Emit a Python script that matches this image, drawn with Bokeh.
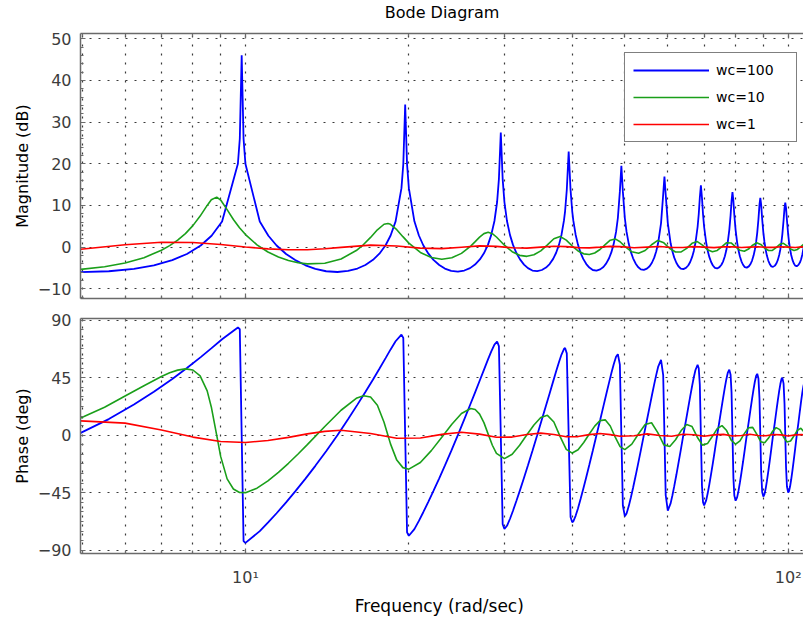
from bokeh.plotting import figure
from bokeh.models import Range1d, FixedTicker, LogAxis, Legend, LegendItem, ColumnDataSource
from bokeh.core.properties import value
from bokeh.layouts import column
from bokeh.embed import file_html
from bokeh.resources import INLINE

# ---------------- data ----------------
title_text = "Bode Diagram"
series_names = ["wc=100", "wc=10", "wc=1"]
series_colors = ["#0000ff", "#1a9f1a", "#ff0000"]

blue_freq = [4.97,
             5.60, 6.23, 6.78, 7.33, 7.80, 8.27, 8.66, 9.055, 9.683, 9.7615, 9.84,
             9.9185, 9.997, 10.625, 11.02, 11.41, 11.88, 12.35, 12.90, 13.45, 14.08, 14.77,
             15.45, 16.08, 16.63, 17.18, 17.65, 18.12, 18.51, 18.905, 19.381, 19.533, 19.69,
             19.847, 19.999, 20.475, 20.87, 21.26, 21.73, 22.20, 22.75, 23.30, 23.93, 24.62,
             25.30, 25.93, 26.48, 27.03, 27.50, 27.97, 28.36, 28.755, 29.082, 29.304, 29.54,
             29.776, 29.998, 30.325, 30.72, 31.11, 31.58, 32.05, 32.60, 33.15, 33.78, 34.47,
             35.16, 35.79, 36.34, 36.89, 37.36, 37.83, 38.22, 38.615, 38.803, 39.086, 39.40,
             39.714, 39.997, 40.185, 40.58, 40.97, 41.44, 41.91, 42.46, 43.01, 43.64, 44.33,
             45.03, 45.66, 46.21, 46.76, 47.23, 47.70, 48.171, 48.542, 48.956, 49.27,
             49.584, 49.998, 50.369, 50.84, 51.31, 51.78, 52.33, 52.88, 53.51, 54.20,
             54.91, 55.54, 56.09, 56.64, 57.11, 57.58, 58.302, 58.836, 59.15,
             59.464, 59.998, 60.72, 61.19, 61.66, 62.21, 62.76, 63.39, 64.08,
             64.80, 65.43, 65.98, 66.53, 67.00, 67.47, 68.081, 68.412, 68.726, 69.04,
             69.354, 69.668, 69.999, 70.61, 71.08, 71.55, 72.10, 72.65, 73.28, 73.97,
             74.70, 75.33, 75.88, 76.43, 76.90, 77.37, 77.881, 78.312, 78.626, 78.94,
             79.254, 79.568, 79.999, 80.51, 80.98, 81.45, 82.00, 82.55, 83.18, 83.87,
             84.60, 85.23, 85.78, 86.33, 86.80, 87.27, 87.69, 88.133, 88.526, 88.84,
             89.154, 89.547, 89.99, 90.41, 90.88, 91.35, 91.90, 92.45, 93.08, 93.77,
             94.52, 95.15, 95.70, 96.25, 96.72, 97.19, 97.527, 98.053, 98.446, 98.76,
             99.074, 99.467, 99.993, 100.33, 100.80, 101.27, 101.82, 102.37, 103.00, 103.69,
             104.45, 105.08, 105.63, 106.18, 106.65, 107.10]
blue_mag = [-6.0,
            -5.79, -5.21, -4.36, -3.11, -1.64, 0.39, 2.73, 6.13, 20.02, 26.0, 46.02,
            26.0, 20.02, 6.13, 2.73, 0.39, -1.64, -3.11, -4.36, -5.21, -5.79, -5.97,
            -5.72, -5.14, -4.29, -3.05, -1.57, 0.45, 2.79, 6.19, 14.16, 19.9, 34.24,
            19.9, 14.16, 6.19, 2.79, 0.45, -1.57, -3.05, -4.29, -5.14, -5.72, -5.89,
            -5.62, -5.04, -4.19, -2.95, -1.48, 0.54, 2.88, 6.27, 10.83, 16.33, 27.49,
            16.33, 10.83, 6.27, 2.88, 0.54, -1.48, -2.95, -4.19, -5.04, -5.62, -5.77,
            -5.49, -4.91, -4.06, -2.82, -1.35, 0.66, 2.98, 6.34, 8.60, 13.77, 22.91,
            13.77, 8.60, 6.34, 2.98, 0.66, -1.35, -2.82, -4.06, -4.91, -5.49, -5.63,
            -5.34, -4.76, -3.91, -2.68, -1.21, 0.79, 3.65, 6.99, 13.31, 19.53,
            13.31, 6.99, 3.65, 0.79, -1.21, -2.68, -3.91, -4.76, -5.34, -5.47,
            -5.17, -4.59, -3.75, -2.52, -1.06, 0.92, 5.77, 12.64, 16.92,
            12.64, 5.77, 0.92, -1.06, -2.52, -3.75, -4.59, -5.17, -5.29,
            -4.99, -4.41, -3.57, -2.35, -0.91, 1.05, 4.83, 7.90, 11.85, 14.86,
            11.85, 7.90, 4.83, 1.05, -0.91, -2.35, -3.57, -4.41, -4.99, -5.11,
            -4.80, -4.23, -3.40, -2.19, -0.76, 1.16, 4.09, 7.66, 11.02, 13.19,
            11.02, 7.66, 4.09, 1.16, -0.76, -2.19, -3.40, -4.23, -4.80, -4.92,
            -4.62, -4.05, -3.23, -2.03, -0.63, 1.25, 3.49, 6.70, 10.2, 11.81,
            10.2, 6.70, 3.49, 1.25, -0.63, -2.03, -3.23, -4.05, -4.62, -4.74,
            -4.44, -3.88, -3.06, -1.88, -0.50, 1.33, 3.01, 6.45, 9.43, 10.67,
            9.43, 6.45, 3.01, 1.33, -0.50, -1.88, -3.06, -3.88, -4.44, -4.58,
            -4.26, -3.71, -2.90, -1.74, -0.38, 1.39]
blue_phase = [1.8,
              12.6, 24.0, 34.0, 44.0, 52.6, 61.1, 68.1, 75.1, 84.3, 82.9, 0.0,
              -82.9, -84.3, -75.1, -68.1, -61.1, -52.6, -44.0, -34.0, -24.0, -12.6, 0.0,
              12.5, 23.9, 33.8, 43.6, 52.0, 60.3, 67.1, 73.5, 78.7, 76.1, 0.0,
              -76.1, -78.7, -73.5, -67.1, -60.3, -52.0, -43.6, -33.8, -23.9, -12.5, 0.0,
              12.4, 23.6, 33.3, 43.0, 51.1, 59.1, 65.4, 70.9, 73.3, 69.7, 0.0,
              -69.7, -73.3, -70.9, -65.4, -59.1, -51.1, -43.0, -33.3, -23.6, -12.4, 0.0,
              12.2, 23.2, 32.7, 42.1, 50.0, 57.5, 63.1, 67.4, 68.2, 64.0, 0.0,
              -64.0, -68.2, -67.4, -63.1, -57.5, -50.0, -42.1, -32.7, -23.2, -12.2, 0.0,
              11.9, 22.7, 32.0, 41.1, 48.6, 55.5, 61.3, 63.4, 55.2, 0.0,
              -55.2, -63.4, -61.3, -55.5, -48.6, -41.1, -32.0, -22.7, -11.9, 0.0,
              11.7, 22.1, 31.2, 39.9, 47.0, 53.4, 59.0, 46.9, 0.0,
              -46.9, -59.0, -53.4, -47.0, -39.9, -31.2, -22.1, -11.7, 0.0,
              11.4, 21.6, 30.3, 38.7, 45.3, 51.0, 55.0, 52.4, 39.6, 0.0,
              -39.6, -52.4, -55.0, -51.0, -45.3, -38.7, -30.3, -21.6, -11.4, 0.0,
              11.1, 21.0, 29.4, 37.4, 43.6, 48.7, 51.3, 47.3, 33.5, 0.0,
              -33.5, -47.3, -51.3, -48.7, -43.6, -37.4, -29.4, -21.0, -11.1, 0.0,
              10.8, 20.3, 28.4, 36.0, 41.8, 46.3, 48.0, 44.4, 28.6, 0.0,
              -28.6, -44.4, -48.0, -46.3, -41.8, -36.0, -28.4, -20.3, -10.8, 0.0,
              10.5, 19.7, 27.5, 34.7, 40.0, 43.9, 45.0, 40.3, 24.6, 0.0,
              -24.6, -40.3, -45.0, -43.9, -40.0, -34.7, -27.5, -19.7, -10.5, 0.0,
              10.1, 19.1, 26.6, 33.4, 38.3, 41.6]

green_freq = [4.97, 5.5, 6, 6.5, 7, 7.25, 7.5, 7.75, 8, 8.25, 8.5, 8.65, 8.85, 9, 9.25, 9.5, 9.75, 10, 10.5,
              11, 11.5, 12, 12.5, 13, 14, 15, 16, 16.5, 17, 17.5, 18, 18.3, 18.5, 19, 19.5, 20,
              21, 22, 23, 24, 25, 26, 26.5, 27, 27.5, 28, 28.5, 29, 30, 31, 32, 33, 34, 35, 36, 37, 38, 39, 40,
              41, 42, 43, 44, 45, 46, 47, 48, 49, 50, 51.5, 53, 54.5, 56, 57.5, 59, 60.5, 62, 63.5, 65,
              66.5, 68, 69.5, 71, 72.5, 74, 75.5, 77, 78.5, 80, 81.5, 83, 84.5, 86, 87.5, 89, 90.5, 92,
              93.5, 95, 96.5, 98, 99.5, 101, 102.5, 104, 105.5, 107]
green_mag = [-5.34, -4.72, -3.82, -2.53, -0.76, 0.36, 1.67, 3.25, 5.16, 7.45, 10.01, 11.35, 12.0, 11.3, 9.0,
             6.63, 4.64, 3.01, 0.55,
             -1.16, -2.37, -3.2, -3.74, -4.02, -3.87, -2.84, -0.82, 0.62, 2.33, 4.15, 5.49, 5.67, 5.47, 4.19,
             2.51, 0.97,
             -1.28, -2.51, -2.91, -2.56, -1.5, 0.25, 1.32, 2.4, 3.24, 3.56, 3.23, 2.43, 0.46, -1.09, -1.97,
             -2.21, -1.84, -0.89, 0.53, 2.0, 2.54, 1.68, 0.26,
             -0.92, -1.61, -1.77, -1.41, -0.57, 0.58, 1.66, 1.97, 1.28, 0.17, -1.13, -1.47, -0.81, 0.57,
             1.6, 1.03, -0.32, -1.17, -1.14, -0.29, 0.91, 1.34, 0.48, -0.61, -1.1, -0.8, 0.13, 1.06, 1.0,
             0.07, -0.77, -0.97, -0.46, 0.46, 1.04, 0.65, -0.24, -0.82, -0.78, -0.14, 0.67, 0.91, 0.32,
             -0.45, -0.8, -0.55, 0.14, 0.77]
green_phase = [13.4, 21.8, 30.6, 38.7, 45.9, 48.8, 50.9, 51.9, 51.0, 46.4, 34.7, 22.1, 0.0, -16.6, -34.2,
               -42.1, -44.9, -45.0, -41.5,
               -35.8, -29.1, -22.0, -14.7, -7.4, 6.8, 19.5, 28.8, 30.9, 29.8, 23.4, 10.1, 0.0, -6.8, -19.5,
               -25.4, -26.6,
               -21.4, -12.1, -1.6, 8.6, 16.9, 20.9, 20.1, 16.5, 9.8, 0.8, -7.9, -14.3, -18.4, -14.9, -7.9,
               0.3, 8.0, 13.8, 15.5, 10.3, -1.1, -11.1, -14.0,
               -11.4, -5.7, 0.9, 7.1, 11.4, 12.0, 7.2, -1.6, -9.0, -11.3, -7.0, 1.1, 8.3, 9.7,
               2.0, -7.6, -8.9, -3.6, 3.6, 8.4, 6.7, -1.6, -7.8, -6.6, -0.9, 5.1, 7.5, 3.6, -3.9,
               -7.1, -4.4, 1.2, 5.8, 6.1, 0.8, -5.1, -6.0, -2.3, 2.8, 5.9, 4.3, -1.4, -5.4,
               -4.6, -0.5, 3.9, 5.4, 2.3]

red_freq = [4.97, 6, 7, 8, 9, 10, 11, 12, 13, 14, 15, 17, 19, 21, 23, 25, 27, 29, 31, 33, 35, 37, 39, 41, 43,
            45, 47, 49, 52, 55, 58, 61, 64, 67, 70, 73, 76, 79, 82, 85, 88, 91, 94, 97, 100, 103, 106, 107]
red_mag = [-0.5, 0.56, 1.16, 1.12, 0.64, 0.04, -0.42, -0.64, -0.63, -0.4, -0.06, 0.49, 0.28, -0.23, -0.36,
           -0.02, 0.31, 0.18, -0.16, -0.25, -0.01, 0.22, 0.13, -0.12, -0.19, -0.01, 0.18, 0.11, -0.16, 0.0,
           0.14, -0.08, -0.08, 0.12, 0.0, -0.11, 0.07, 0.07, -0.1, 0.0, 0.09, -0.06, -0.05, 0.08, 0.0, -0.08,
           0.05, 0.08]
red_phase = [11.2, 9.4, 4.1, -1.5, -5.0, -5.7, -4.2, -1.7, 1.0, 3.0, 3.8, 1.3, -2.4, -2.2, 0.6, 2.3, 0.8,
             -1.6, -1.5, 0.5, 1.6, 0.5, -1.2, -1.1, 0.4, 1.3, 0.4, -0.9, -0.4, 1.0, -0.3, -0.8, 0.7, 0.3,
             -0.8, 0.2, 0.6, -0.6, -0.2, 0.7, -0.2, -0.5, 0.5, 0.2, -0.6, 0.2, 0.4, 0.2]

# axes / ticks
freq_major_ticks = [10, 100]
freq_minor_ticks = [5, 6, 7, 8, 9, 20, 30, 40, 50, 60, 70, 80, 90]
freq_tick_labels = {10: "10\u00b9", 100: "10\u00b2"}
mag_ticks = [-10, 0, 10, 20, 30, 40, 50]
mag_minor_ticks = [-12, -10, -8, -6, -4, -2, 0, 2, 4, 6, 8, 10, 12, 14, 16, 18, 20, 22, 24, 26, 28, 30,
                   32, 34, 36, 38, 40, 42, 44, 46, 48, 50]
phase_ticks = [-90, -45, 0, 45, 90]
phase_minor_ticks = [-90, -82.5, -75, -67.5, -60, -52.5, -45, -37.5, -30, -22.5, -15, -7.5, 0, 7.5, 15,
                     22.5, 30, 37.5, 45, 52.5, 60, 67.5, 75, 82.5, 90]

# ---------------- styling ----------------
FONT = "DejaVu Sans"
FRAME_COLOR = "#6a6a6a"
TICKLABEL_COLOR = "#3c3c3c"
GRID_COLOR = "#3a3a3a"
GRID_DASH = "2 7"

x_range = Range1d(4.966, 106.7)


def style_axis(ax, ticker, labels=True, overrides=None):
    ax.ticker = ticker
    ax.axis_line_color = FRAME_COLOR
    ax.axis_line_width = 1.5
    ax.major_tick_in = 5
    ax.major_tick_out = 0
    ax.minor_tick_in = 3
    ax.minor_tick_out = 0
    ax.major_tick_line_color = FRAME_COLOR
    ax.minor_tick_line_color = FRAME_COLOR
    ax.major_tick_line_width = 1.2
    ax.minor_tick_line_width = 1.2
    if labels:
        ax.major_label_text_font = FONT
        ax.major_label_text_font_size = "16px"
        ax.major_label_text_color = TICKLABEL_COLOR
        if overrides:
            ax.major_label_overrides = overrides
    else:
        ax.major_label_text_font_size = "0px"
        ax.major_label_standoff = 0
        ax.major_label_overrides = {t: "" for t in ticker.ticks}
    ax.axis_label_text_font = FONT
    ax.axis_label_text_font_style = "normal"
    ax.axis_label_text_color = "#000000"


def make_fig(frame_h, y_range, top, bottom):
    p = figure(x_axis_type="log", x_range=x_range, y_range=y_range,
               frame_width=723, frame_height=frame_h,
               min_border_left=80, min_border_right=0,
               min_border_top=top, min_border_bottom=bottom,
               output_backend="svg", toolbar_location=None,
               outline_line_color=None, background_fill_color="white",
               border_fill_color="white")
    p.xgrid.grid_line_color = GRID_COLOR
    p.xgrid.grid_line_dash = GRID_DASH
    p.xgrid.grid_line_width = 1.2
    p.xgrid.minor_grid_line_color = GRID_COLOR
    p.xgrid.minor_grid_line_dash = GRID_DASH
    p.xgrid.minor_grid_line_width = 1.2
    p.ygrid.grid_line_color = GRID_COLOR
    p.ygrid.grid_line_dash = GRID_DASH
    p.ygrid.grid_line_width = 1.2
    p.ygrid.minor_grid_line_color = None
    return p


# ---- title strip (a small figure holding only the title text, frame aligned with the plots) ----
pt = figure(frame_width=723, frame_height=23, x_range=Range1d(0, 723), y_range=Range1d(0, 23),
            min_border_left=80, min_border_right=0, min_border_top=0, min_border_bottom=0,
            x_axis_location=None, y_axis_location=None,
            output_backend="svg", toolbar_location=None, outline_line_color=None,
            background_fill_color="white", border_fill_color="white")
pt.xgrid.visible = False
pt.ygrid.visible = False
pt.text(x=[361.5], y=[11.5], text=[title_text], text_align="center", text_baseline="middle",
        text_font=value(FONT), text_font_size="16px", text_color="#000000")

# ---- magnitude ----
p1 = make_fig(265, Range1d(-12.33, 51.27), 10, 10)

style_axis(p1.xaxis[0], FixedTicker(ticks=freq_major_ticks, minor_ticks=freq_minor_ticks), labels=False)
top1 = LogAxis()
style_axis(top1, FixedTicker(ticks=freq_major_ticks, minor_ticks=freq_minor_ticks), labels=False)
p1.add_layout(top1, "above")
style_axis(p1.yaxis[0], FixedTicker(ticks=mag_ticks, minor_ticks=mag_minor_ticks))
p1.yaxis[0].axis_label = "Magnitude (dB)"
p1.yaxis[0].axis_label_text_font_size = "16px"
p1.yaxis[0].major_label_standoff = 9
p1.yaxis[0].axis_label_standoff = 3

src_b = ColumnDataSource(dict(x=blue_freq, m=blue_mag, ph=blue_phase))
src_g = ColumnDataSource(dict(x=green_freq, m=green_mag, ph=green_phase))
src_r = ColumnDataSource(dict(x=red_freq, m=red_mag, ph=red_phase))

rb = p1.line("x", "m", source=src_b, line_color=series_colors[0], line_width=1.8)
rg = p1.line("x", "m", source=src_g, line_color=series_colors[1], line_width=1.6)
rr = p1.line("x", "m", source=src_r, line_color=series_colors[2], line_width=1.6)

legend = Legend(items=[LegendItem(label=series_names[0], renderers=[rb]),
                       LegendItem(label=series_names[1], renderers=[rg]),
                       LegendItem(label=series_names[2], renderers=[rr])],
                location=(544, 156), margin=0, padding=8, spacing=9,
                glyph_width=76, glyph_height=18, label_height=18, label_width=72, label_standoff=7,
                label_text_font=FONT, label_text_font_size="14px", label_text_color="#000000",
                border_line_color="#000000", border_line_width=1.5,
                background_fill_color="white", background_fill_alpha=1.0)
p1.add_layout(legend)

# ---- phase ----
p2 = make_fig(235, Range1d(-92.6, 91.3), 10, 65)
style_axis(p2.xaxis[0], FixedTicker(ticks=freq_major_ticks, minor_ticks=freq_minor_ticks),
           labels=True, overrides=freq_tick_labels)
p2.xaxis[0].major_label_standoff = 14
p2.xaxis[0].axis_label = "Frequency  (rad/sec)"
p2.xaxis[0].axis_label_text_font_size = "17px"
p2.xaxis[0].axis_label_standoff = 6
top2 = LogAxis()
style_axis(top2, FixedTicker(ticks=freq_major_ticks, minor_ticks=freq_minor_ticks), labels=False)
p2.add_layout(top2, "above")
style_axis(p2.yaxis[0], FixedTicker(ticks=phase_ticks, minor_ticks=phase_minor_ticks))
p2.yaxis[0].axis_label = "Phase (deg)"
p2.yaxis[0].axis_label_text_font_size = "16px"
p2.yaxis[0].major_label_standoff = 9
p2.yaxis[0].axis_label_standoff = 3

p2.line("x", "ph", source=src_b, line_color=series_colors[0], line_width=1.8)
p2.line("x", "ph", source=src_g, line_color=series_colors[1], line_width=1.6)
p2.line("x", "ph", source=src_r, line_color=series_colors[2], line_width=1.6)

layout = column(pt, p1, p2, spacing=0)
open("out.html", "w").write(file_html(layout, INLINE))
